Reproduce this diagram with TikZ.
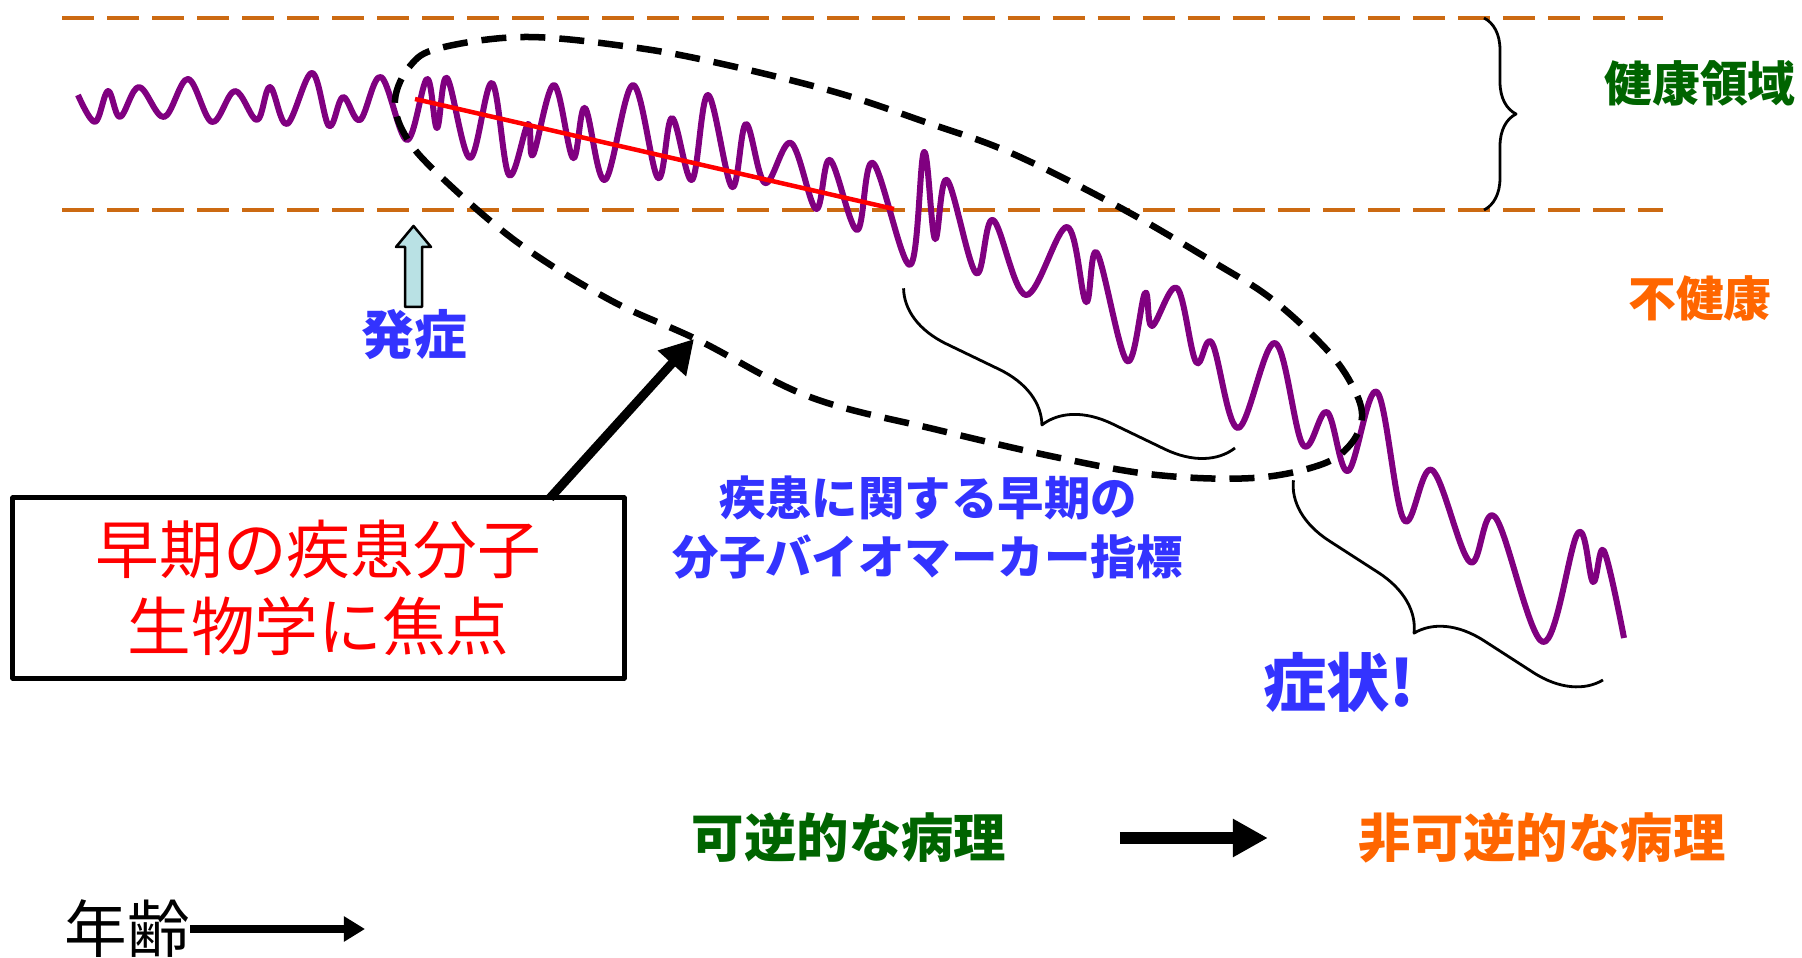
\documentclass[tikz,border=0pt]{standalone}
\usepackage{fontspec}
\setmainfont{Noto Sans CJK JP}
\usetikzlibrary{arrows.meta,decorations.pathreplacing}

\definecolor{limitorange}{RGB}{204,106,18}
\definecolor{wavepurple}{RGB}{128,0,128}
\definecolor{healthgreen}{RGB}{0,100,0}
\definecolor{sickorange}{RGB}{255,102,0}
\definecolor{markblue}{RGB}{51,51,255}
\definecolor{onsetcyan}{RGB}{185,225,228}

\begin{document}
\begin{tikzpicture}[x=0.01cm,y=-0.01cm,line join=round]
    \tikzstyle{limit}=[draw=limitorange,line width=0.045cm,dash pattern=on 0.32cm off 0.13cm]
    \tikzstyle{signal}=[draw=wavepurple,line width=0.06cm]
    \tikzstyle{zone}=[draw=black,line width=0.065cm,dash pattern=on 0.25cm off 0.14cm]
    \tikzstyle{bracket}=[draw=black,line width=0.028cm,decorate]
    \tikzstyle{txt}=[inner sep=0pt,align=center]
    \useasboundingbox (0,0) rectangle (1802,958);

    % healthy band
    \foreach \y in {18,210}
        \draw[limit] (62,\y) -- (1663,\y);

    \draw[signal] plot[smooth,tension=0.6] coordinates {
        (78,95) (95,122) (108,91) (120,117) (139,87) (164,117) (188,79) (212,122)
        (235,91) (257,120) (270,87) (287,124) (312,73) (329,126) (343,97) (360,120)
        (381,77) (407,140) (427,79) (437,128) (447,78) (470,158) (492,83) (509,175)
        (528,124) (533,155) (554,85) (573,158) (585,108) (605,180) (633,85) (658,178)
        (672,118) (692,180) (708,95) (732,187) (746,124) (765,183) (791,143) (816,209)
        (830,160) (857,230) (873,163) (910,265) (924,152) (935,239) (947,180) (976,273)
        (993,220) (1026,295) (1067,227) (1086,302) (1097,253) (1127,361) (1145,293) (1152,326)
        (1177,288) (1196,362) (1212,343) (1238,428) (1275,343) (1303,445) (1327,412) (1348,471)
        (1377,392) (1404,520) (1432,470) (1470,562) (1495,517) (1543,642) (1578,533) (1593,582)
        (1604,551) (1624,638)};
    \draw[red,line width=0.045cm] (415,99) -- (894,209);

    \draw[zone] plot[smooth cycle,tension=0.6] coordinates {
        (395,100) (410,66) (440,48) (525,37) (631,47) (718,63) (835,92) (928,123)
        (1011,153) (1119,207) (1215,263) (1273,300) (1327,350) (1353,387) (1362,417)
        (1350,445) (1320,465) (1253,478) (1157,475) (1060,458) (938,430) (810,397)
        (698,340) (610,300) (517,242) (437,173) (405,135)};

    % labels
    \node[txt,text=healthgreen,font=\fontsize{13.6}{16}\selectfont\bfseries] (healthy) at (1700,83) {健康領域};
    \node[txt,text=sickorange,font=\fontsize{13.6}{16}\selectfont\bfseries] (unhealthy) at (1700,298) {不健康};
    \node[txt,text=markblue,font=\fontsize{15}{18}\selectfont\bfseries] (onset) at (414,335) {発症};
    \node[txt,text=markblue,font=\fontsize{13.2}{16.8}\selectfont\bfseries] (markers) at (928,528) {疾患に関する早期の\\分子バイオマーカー指標};
    \node[txt,text=markblue,font=\fontsize{18}{20}\selectfont\bfseries] (symptom) at (1339,682) {症状!};
    \node[txt,text=healthgreen,font=\fontsize{14.9}{18}\selectfont\bfseries] (reversible) at (849,838) {可逆的な病理};
    \node[txt,text=sickorange,font=\fontsize{14.9}{18}\selectfont\bfseries] (irreversible) at (1542,838) {非可逆的な病理};
    \node[txt,font=\fontsize{17.8}{20}\selectfont] (age) at (127,929) {年齢};
    \node[draw,line width=0.05cm,minimum width=6.11cm,minimum height=1.8cm,text=red,align=center,
        font=\fontsize{18.1}{21.9}\selectfont] (focusbox) at (318.5,588) {早期の疾患分子\\生物学に焦点};

    % arrows
    \draw[fill=onsetcyan,line width=0.025cm] (405,307) -- (405,247) -- (396,247) -- (413.5,226)
        -- (431,247) -- (422,247) -- (422,307) -- cycle;
    \coordinate (boxexit) at (550,498);
    \coordinate (zonept) at (694,339);
    \draw[line width=0.09cm,-{Triangle[length=0.33cm,width=0.36cm]}] (boxexit) -- (zonept);
    \draw[line width=0.12cm,-{Triangle[length=0.35cm,width=0.36cm]},shorten <=1.13cm,shorten >=0.9cm]
        (reversible.east) -- (irreversible.west);
    \coordinate (agetip) at (365,929);
    \draw[line width=0.07cm,-{Triangle[length=0.21cm,width=0.24cm]}] (age.east) -- (agetip);

    % braces
    \draw[bracket,decoration={brace,amplitude=0.32cm}] (1484,18) -- (1484,210);
    \draw[bracket,decoration={brace,amplitude=0.63cm}] (1235,448) -- (903,288);
    \draw[bracket,decoration={brace,amplitude=0.63cm}] (1603,680) -- (1293,480);
\end{tikzpicture}
\end{document}
